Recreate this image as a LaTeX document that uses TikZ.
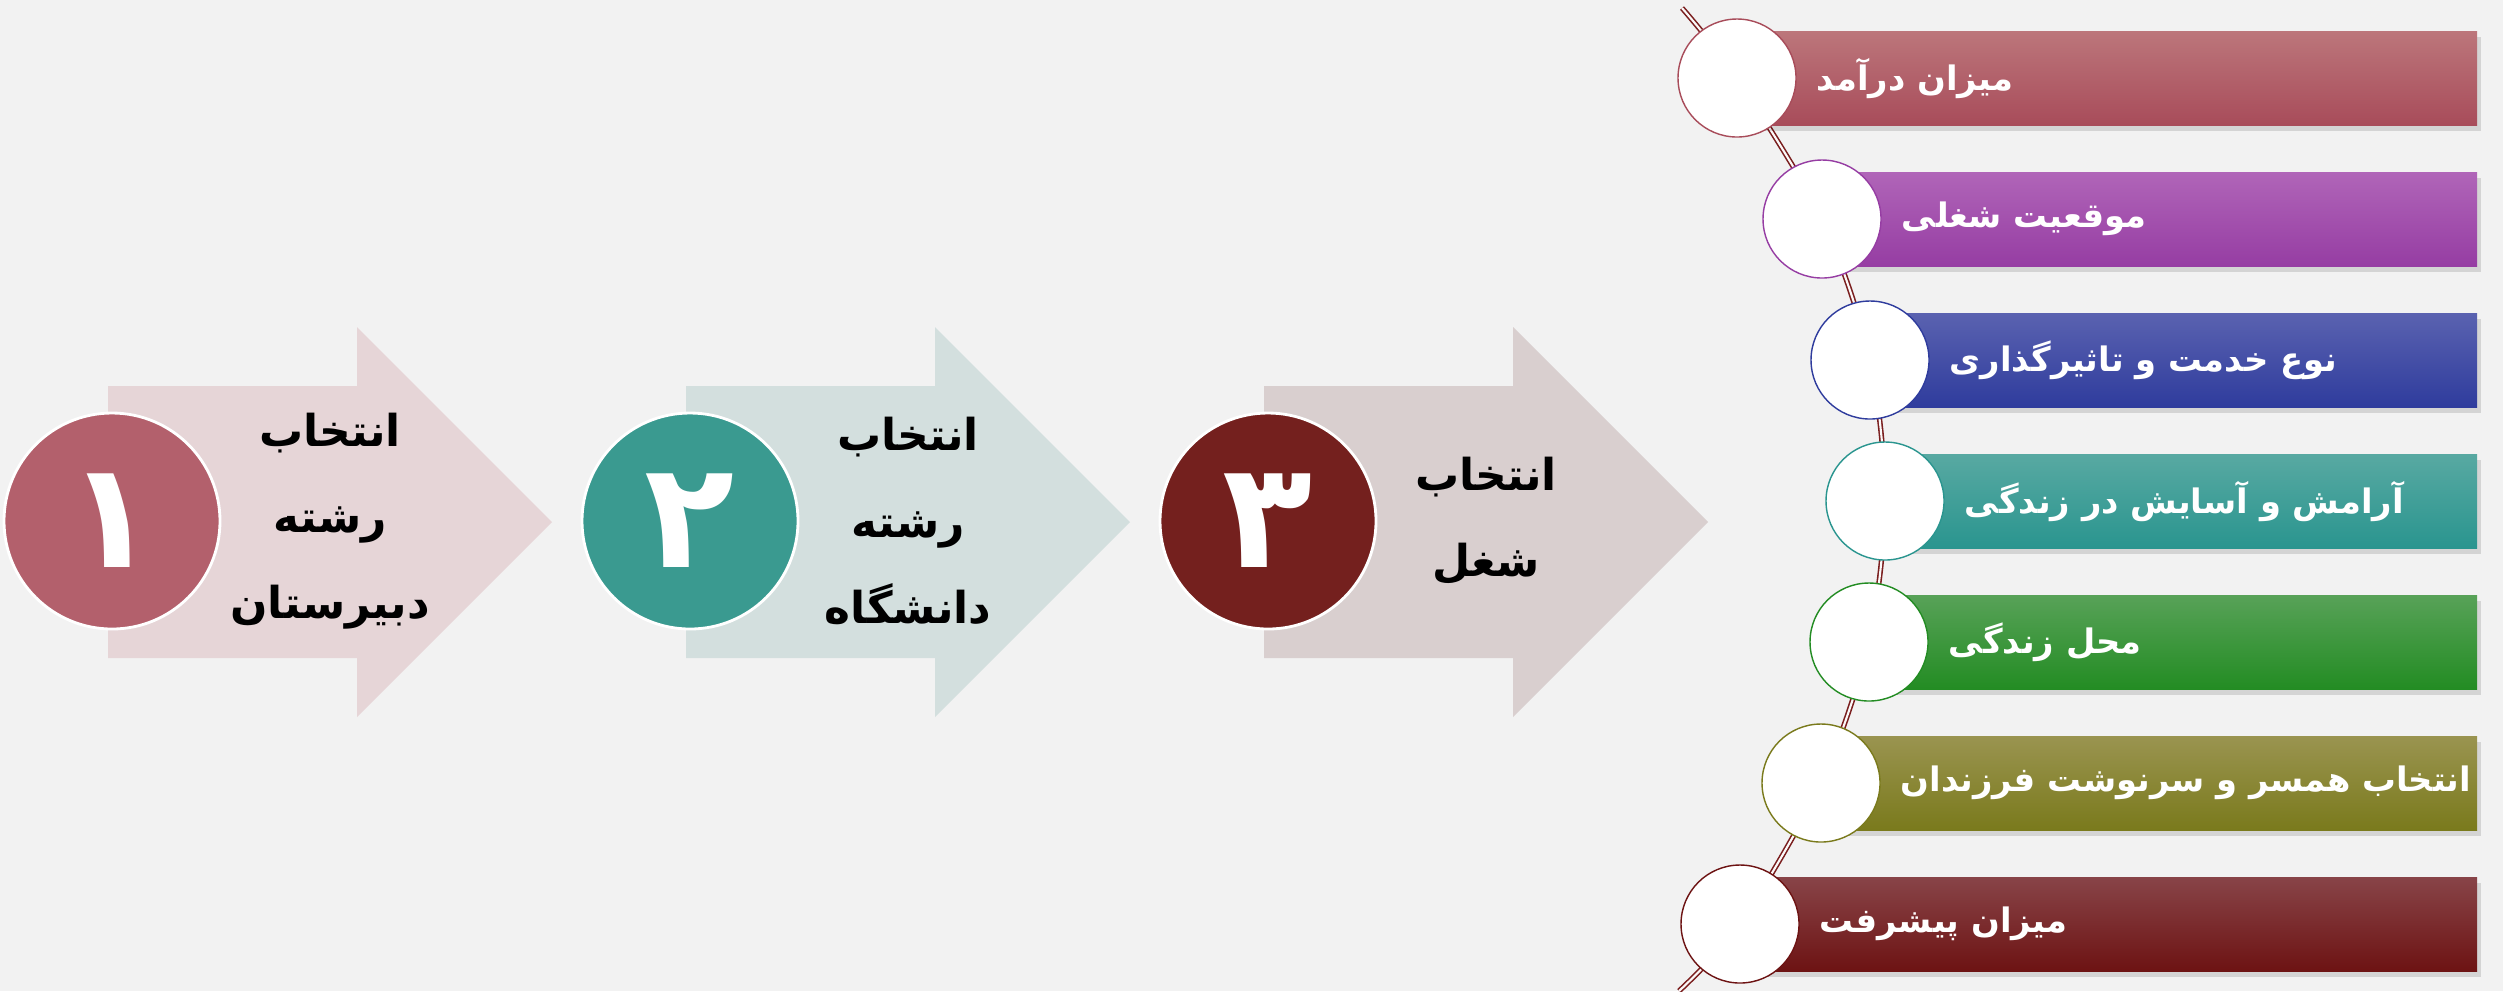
\documentclass[tikz,border=0pt]{standalone}
\usepackage{fontspec}
\usetikzlibrary{positioning}
\TeXXeTstate=1
\newfontfamily\farsi[Script=Arabic]{DejaVu Sans}
\newcommand\rtlline[1]{\beginR#1\endR}
% page and arrows
\definecolor{pagegray}{HTML}{F2F2F2}
\definecolor{pinkArrow}{HTML}{E6D5D7}
\definecolor{pinkDisc}{HTML}{B3606C}
\definecolor{tealArrow}{HTML}{D3DFDE}
\definecolor{tealDisc}{HTML}{3A9A90}
\definecolor{brownArrow}{HTML}{D9CFCF}
\definecolor{brownDisc}{HTML}{74201E}
% bars, top and bottom of each
\definecolor{roseT}{HTML}{BC767B}\definecolor{roseB}{HTML}{A84C5A}
\definecolor{plumT}{HTML}{B065B8}\definecolor{plumB}{HTML}{963DA3}
\definecolor{blueT}{HTML}{5A62B0}\definecolor{blueB}{HTML}{2F3C9D}
\definecolor{seaT}{HTML}{58A9A2}\definecolor{seaB}{HTML}{2A958F}
\definecolor{leafT}{HTML}{58A258}\definecolor{leafB}{HTML}{238C23}
\definecolor{oliveT}{HTML}{9A9450}\definecolor{oliveB}{HTML}{7A7A1C}
\definecolor{wineT}{HTML}{884448}\definecolor{wineB}{HTML}{6D1313}
\definecolor{chainRed}{HTML}{7A1E1E}
\begin{document}
\begin{tikzpicture}[x=0.1mm,y=-0.1mm,
    numdisc/.style={circle,draw=white,line width=0.8pt,minimum size=21.6mm,inner sep=0pt,
      text=white,font=\farsi\bfseries\fontsize{42}{46}\selectfont},
    stagetext/.style={align=center,text=black,font=\farsi\bfseries\fontsize{12.5}{24.5}\selectfont},
    dot/.style={circle,fill=white,line width=0.4pt,minimum size=11.8mm,inner sep=0pt},
    bartext/.style={anchor=west,inner sep=1pt,text=white,font=\farsi\bfseries\fontsize{9.6}{12}\selectfont},
    chain/.style={draw=chainRed,line width=0.45pt,double=white!85!pinkArrow,double distance=0.6pt}]
  \fill[pagegray] (0,0) rectangle (2503,991);
  \useasboundingbox (0,0) rectangle (2503,991);
  % the three big arrows
  \foreach \k/\ox/\fc/\cc/\txt in {
      1/108/pinkArrow/pinkDisc/{\rtlline{انتخاب}\\\rtlline{رشته}\\\rtlline{دبیرستان}},
      2/686/tealArrow/tealDisc/{\rtlline{انتخاب}\\\rtlline{رشته}\\\rtlline{دانشگاه}},
      3/1264/brownArrow/brownDisc/{\rtlline{انتخاب}\\\rtlline{شغل}}} {
    \fill[\fc] (\ox,386) -- ++(249,0) -- ++(0,-59) -- ++(195,195) -- ++(-195,195)
      -- ++(0,-59) -- ++(-249,0) -- cycle;
    \node[stagetext] (t\k) at ({\ox+222},521) {\txt};
  }
  \node[numdisc,fill=pinkDisc] (n1) at (112,521) {۱};
  \node[numdisc,fill=tealDisc] (n2) at (690,521) {۲};
  \node[numdisc,fill=brownDisc] (n3) at (1268,521) {۳};
  % list on the right
  \coordinate (ctop) at (1682,8);
  \coordinate (cbot) at (1679,991);
  \foreach \n/\cx/\cy in {1/1737/78,2/1822/219,3/1870/360,4/1885/501,5/1869/642,6/1821/783,7/1740/924}
    \coordinate (p\n) at (\cx,\cy);
  \draw[chain] plot[smooth] coordinates {(ctop) (p1) (p2) (p3) (p4) (p5) (p6) (p7) (cbot)};
  \foreach \n/\cy/\tc/\bc/\txt in {
      1/78/roseT/roseB/{میزان درآمد},
      2/219/plumT/plumB/{موقعیت شغلی},
      3/360/blueT/blueB/{نوع خدمت و تاثیرگذاری},
      4/501/seaT/seaB/{آرامش و آسایش در زندگی},
      5/642/leafT/leafB/{محل زندگی},
      6/783/oliveT/oliveB/{انتخاب همسر و سرنوشت فرزندان},
      7/924/wineT/wineB/{میزان پیشرفت}} {
    \fill[black,opacity=0.12] ([shift={(4,6)}]p\n) ++(0,-47) rectangle (2481,{\cy+53});
    \shade[top color=\tc,bottom color=\bc] (p\n) ++(0,-47) rectangle (2477,{\cy+47});
    \node[dot,draw=\bc] (d\n) at (p\n) {};
    \node[bartext,right=1.6mm of d\n] (b\n) {\rtlline{\txt}};
  }
\end{tikzpicture}
\end{document}
